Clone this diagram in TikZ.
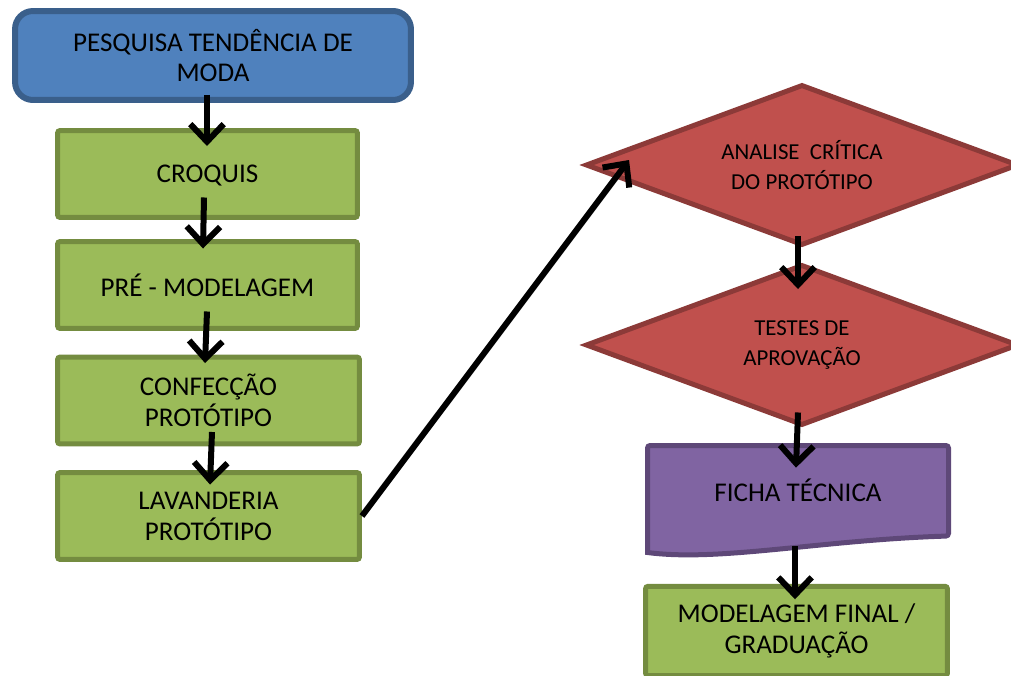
\documentclass[tikz,border=0pt]{standalone}
\usepackage{fontspec}
\setmainfont{Carlito}
\usetikzlibrary{shapes.geometric,arrows.meta,calc}

\definecolor{azul}{HTML}{4F81BD}
\definecolor{azulborda}{HTML}{3A5F8B}
\definecolor{verde}{HTML}{9BBB59}
\definecolor{verdeborda}{HTML}{748C40}
\definecolor{vermelho}{HTML}{C0504D}
\definecolor{vermelhoborda}{HTML}{8C3A38}
\definecolor{roxo}{HTML}{8064A2}
\definecolor{roxoborda}{HTML}{5E4878}

\begin{document}
\begin{tikzpicture}[x=0.02cm, y=-0.02cm,
	texto/.style={align=center, font=\fontsize{15.4}{17.6}\selectfont},
	caixa/.style={texto, rectangle, rounded corners=1.5pt, draw=verdeborda, fill=verde,
		line width=0.1cm, minimum width=6cm, minimum height=1.74cm},
	losango/.style={diamond, aspect=2.7, draw=vermelhoborda, fill=vermelho, line width=0.1cm,
		minimum width=8.66cm, minimum height=3.22cm, inner sep=0pt, align=center,
		font=\fontsize{13}{17}\selectfont},
	seta/.style={line width=0.12cm, -{Straight Barb[length=10pt,width=19pt]}}]

\useasboundingbox (0,0) rectangle (1011,676);

% coluna da esquerda
\node[texto, rectangle, rounded corners=0.36cm, draw=azulborda, fill=azul, line width=0.12cm,
	minimum width=7.92cm, minimum height=1.78cm] (pesquisa) at (213,55.5)
	{PESQUISA TENDÊNCIA DE\\MODA};
\node[caixa, text depth=0pt] (croquis) at (207.5,174) {CROQUIS};
\node[caixa] (pre) at (207.5,285) {PRÉ - MODELAGEM};
\node[caixa, minimum width=6.04cm] (confeccao) at (208.5,400.5) {CONFECÇÃO\\PROTÓTIPO};
\node[caixa, minimum width=6.04cm] (lavanderia) at (208.5,516) {LAVANDERIA\\PROTÓTIPO};

% coluna da direita
\node[losango] (analise) at (802,165) {ANALISE~ CRÍTICA\\DO PROTÓTIPO};
\node[losango] (testes) at (802,345) {TESTES DE\\APROVAÇÃO};

%documento
\draw[line width=0.1cm, draw=roxoborda, fill=roxo, rounded corners=1.5pt]
	(647.5,552.5) -- (647.5,445.5) -- (948.5,445.5) -- (948.5,536)
	[sharp corners] .. controls (820,540) and (720,562) .. (647.5,552.5) -- cycle;
\node[texto, minimum width=6.02cm, minimum height=1.94cm] (ficha) at (798,490) {FICHA TÉCNICA};

\node[caixa, minimum width=6.04cm, minimum height=1.79cm] (modfinal) at (796.5,631)
	{MODELAGEM FINAL /\\GRADUAÇÃO};

\draw[seta] ($(pesquisa.south)+(-6,-8)$) -- ($(croquis.north)+(-0.5,18)$);
\draw[seta] ($(croquis.south)+(-3.5,-22.5)$) -- ($(pre.north)+(-4.5,9.5)$);
\draw[seta] ($(pre.south)+(-0.5,-19.5)$) -- ($(confeccao.north)+(-3.5,8.5)$);
\draw[seta] ($(confeccao.south)+(3.5,-14.5)$) -- ($(lavanderia.north)+(1.5,14.5)$);
\draw[seta] (lavanderia.east) -- ($(analise.west)+(46,-5)$);
\draw[seta] ($(analise.south)+(-4,-12)$) -- ($(testes.north)+(-4,27)$);
\draw[seta] ($(testes.south)+(-4,-15.5)$) -- ($(ficha.north)+(-2,26.5)$);
\draw[seta] ($(ficha.south)+(-3,7.5)$) -- ($(modfinal.north)+(-1.5,15.5)$);

\end{tikzpicture}
\end{document}
